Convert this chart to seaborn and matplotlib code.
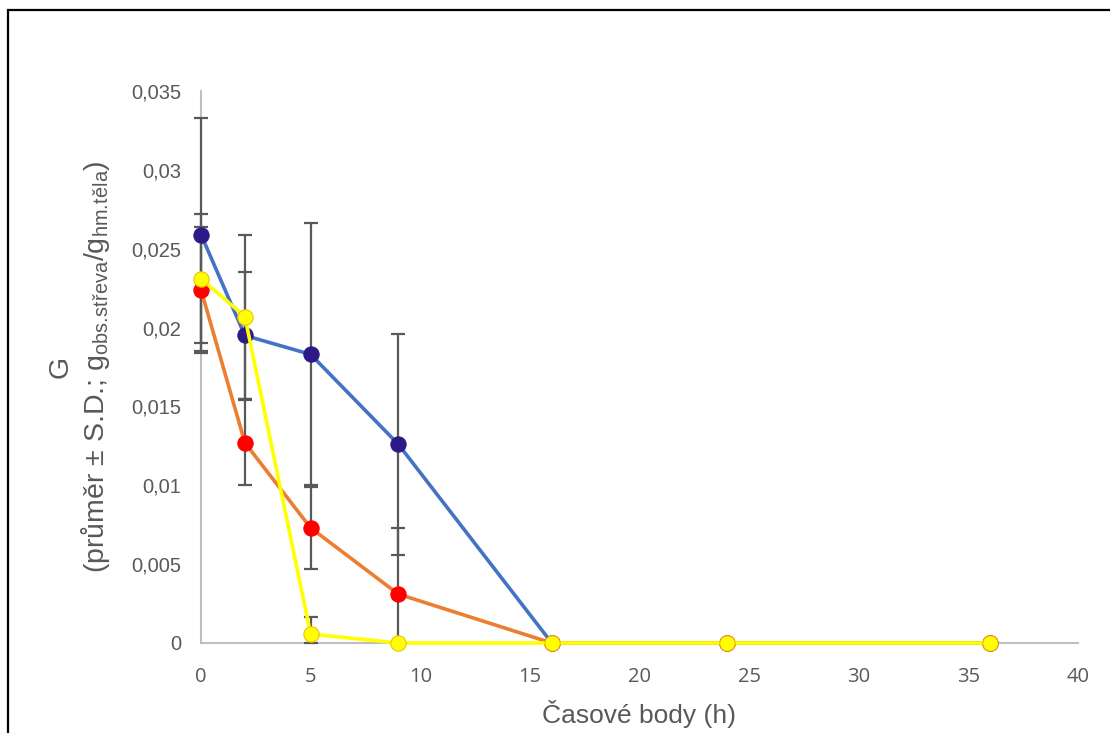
import numpy as np
import pandas as pd
import matplotlib
matplotlib.use("Agg")
import matplotlib.pyplot as plt
import seaborn as sns
from matplotlib.ticker import FuncFormatter, MultipleLocator

# casove body (h)
cas = [0, 2, 5, 9, 16, 24, 36]

# prumery a S.D. pro tri skupiny
g_modra = [0.0259, 0.0195, 0.0183, 0.0126, 0, 0, 0]
sd_modra = [0.0074, 0.0040, 0.0083, 0.0070, 0, 0, 0]

g_oranzova = [0.0224, 0.0127, 0.0073, 0.0031, 0, 0, 0]
sd_oranzova = [0.0040, 0.0027, 0.0026, 0.0042, 0, 0, 0]

g_zluta = [0.0231, 0.0207, 0.00057, 0, 0, 0, 0]
sd_zluta = [0.0041, 0.0052, 0.0011, 0, 0, 0, 0]

serie = [
    (g_modra, sd_modra, "#4472C4", "#2E1A87", "#2E1A87"),
    (g_oranzova, sd_oranzova, "#ED7D31", "#FF0000", "#FF0000"),
    (g_zluta, sd_zluta, "#FFFF00", "#FFFF00", "#F0C000"),
]

sns.set_style("white")
plt.rcParams['font.family'] = ['Liberation Sans', 'DejaVu Sans']

fig = plt.figure(figsize=(11.1, 7.33), dpi=100)
ax = fig.add_axes([201/1110, 1 - 643/733, (1078 - 201)/1110, (643 - 91)/733])
ax.set_xlim(0, 40)
ax.set_ylim(0, 0.035)

# chybove useciky (S.D.)
for g, sd, barva, mf, me in serie:
    dolni = np.minimum(sd, g)  # pod nulou se nekresli
    eb = ax.errorbar(cas, g, yerr=[dolni, sd], fmt='none', ecolor='#595959',
                     elinewidth=1.6, capsize=5, capthick=1.6, zorder=2)
    for art in eb.lines[1] + eb.lines[2]:
        art.set_clip_on(False)

for i, (g, sd, barva, mf, me) in enumerate(serie):
    df = pd.DataFrame({"cas": cas, "g": g})
    sns.lineplot(data=df, x="cas", y="g", ax=ax, color=barva, linewidth=2.6,
                 marker='o', markersize=11, markerfacecolor=mf,
                 markeredgecolor=me, markeredgewidth=0.8, zorder=3 + i,
                 clip_on=False)

ax.xaxis.set_major_locator(MultipleLocator(5))
ax.yaxis.set_major_locator(MultipleLocator(0.005))
ax.yaxis.set_major_formatter(FuncFormatter(lambda v, p: f"{round(v, 4):g}".replace('.', ',')))

for s in ['top', 'right']:
    ax.spines[s].set_visible(False)
for s in ['left', 'bottom']:
    ax.spines[s].set_color('#BFBFBF')
    ax.spines[s].set_linewidth(1.5)
    ax.spines[s].set_zorder(1)
ax.tick_params(axis='both', length=0, colors='#595959')
ax.tick_params(axis='y', pad=14, labelsize=14.5)
ax.tick_params(axis='x', pad=17, labelsize=14.5)
for t in ax.get_xticklabels():
    t.set_family(['Open Sans', 'DejaVu Sans'])

ax.set_xlabel("Časové body (h)", fontsize=19, color='#595959', labelpad=10)
ax.set_ylabel("G\n(průměr ± S.D.; $\\mathregular{g_{obs.\\!střeva}/g_{hm.\\!těla}}$)",
              fontsize=20.5, color='#595959', labelpad=14, linespacing=1.2)

fig.patches.append(plt.Rectangle((8/1110, -0.05), 1.2, 1 - 10/733 + 0.05, fill=False,
                                 edgecolor='black', linewidth=1.6,
                                 transform=fig.transFigure, figure=fig))

fig.savefig("out.png", dpi=100)
